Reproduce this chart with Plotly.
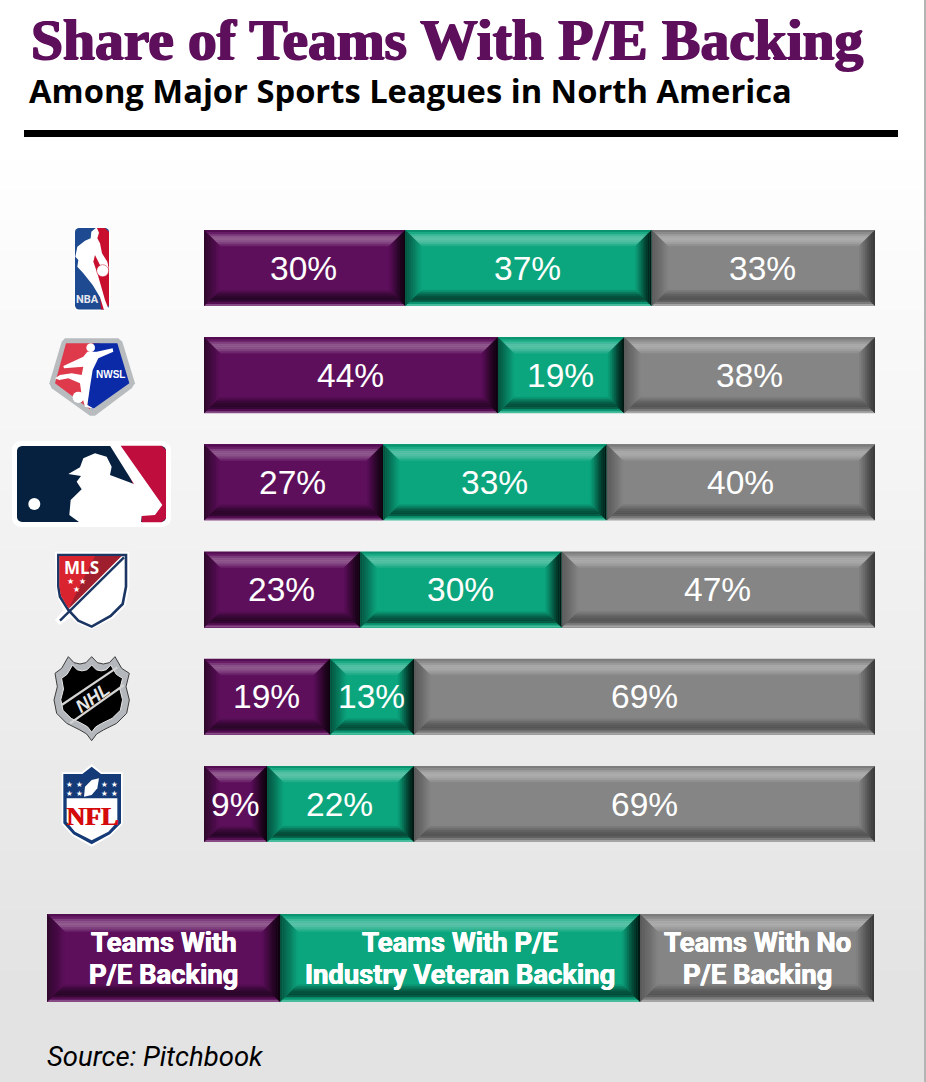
import math

import plotly.graph_objects as go

W, H = 926, 1082

leagues = ["NBA", "NWSL", "MLB", "MLS", "NHL", "NFL"]
series_names = [
    "Teams With<br>P/E Backing",
    "Teams With P/E<br>Industry Veteran Backing",
    "Teams With No<br>P/E Backing",
]
pe_backing = [30.0, 43.8, 26.7, 23.3, 18.8, 9.4]
veteran_backing = [36.7, 18.8, 33.3, 30.0, 12.5, 21.9]
no_backing = [33.3, 37.5, 40.0, 46.7, 68.8, 68.8]

PURPLE = "#5e0f5c"
TEAL = "#0ca67e"
GRAY = "#858585"
series = [pe_backing, veteran_backing, no_backing]
colors = [PURPLE, TEAL, GRAY]

# bevel stripes from the outer edge inwards, >0 towards white, <0 towards black
BEVEL_TOP = [-0.12, 0.06, 0.2, 0.3, 0.32, 0.28, 0.2, 0.1]
BEVEL_BOTTOM = [0.25, -0.1, -0.45, -0.55, -0.5, -0.4, -0.25, -0.1]
BEVEL_LEFT = [-0.5, -0.42, -0.36, -0.3, -0.24, -0.17, -0.1, -0.04]
BEVEL_RIGHT = [-0.85, -0.75, -0.65, -0.55, -0.42, -0.3, -0.18, -0.07]

BAR_LEFT, BAR_RIGHT = 204, 875
ROW_TOP, ROW_BOTTOM = 214.4, 857.6
BAR_WIDTH = 0.709

shapes = []
annotations = []


def shade(color, t):
    # gray goes dark much faster than the two colours
    if color == GRAY and t < 0:
        t *= 0.65
    rgb = [int(color[i:i + 2], 16) for i in (1, 3, 5)]
    target = 255 if t > 0 else 0
    rgb = [round(c + (target - c) * abs(t)) for c in rgb]
    return "#%02x%02x%02x" % tuple(rgb)


def px(x, y):
    return x / W, 1 - y / H


def path_of(points, close=True):
    d = "M" + " L".join(f"{x:.5f},{y:.5f}" for x, y in points)
    return d + " Z" if close else d


def add_poly(points, fill, line=None, line_width=0, close=True, layer="above"):
    # points in page pixels
    shapes.append(dict(
        type="path", xref="paper", yref="paper", layer=layer,
        path=path_of([px(x, y) for x, y in points], close),
        fillcolor=fill if fill else "rgba(0,0,0,0)",
        line=dict(color=line or "rgba(0,0,0,0)", width=line_width),
    ))


def zoomed(points, y0):
    # logo outlines were read at 3x, from a crop starting at y0
    return [(x / 3, y0 + y / 3) for x, y in points]


def circle(cx, cy, r, n=16):
    return [(cx + r * math.cos(2 * math.pi * i / n), cy + r * math.sin(2 * math.pi * i / n))
            for i in range(n)]


def rounded_rect(x0, y0, x1, y1, r):
    pts = []
    for cx, cy, start in [(x1 - r, y0 + r, -90), (x1 - r, y1 - r, 0), (x0 + r, y1 - r, 90), (x0 + r, y0 + r, 180)]:
        for k in range(5):
            a = math.radians(start + k * 22.5)
            pts.append((cx + r * math.cos(a), cy + r * math.sin(a)))
    return pts


def add_text(x, y, text, size, color="white", family="Liberation Sans", weight="normal",
             anchor="center", angle=0, style="normal", shadow="none"):
    fx, fy = px(x, y)
    annotations.append(dict(
        xref="paper", yref="paper", x=fx, y=fy, text=text, showarrow=False,
        xanchor=anchor, yanchor="middle", textangle=angle, align="center",
        font=dict(size=size, color=color, family=family, weight=weight, style=style, shadow=shadow),
    ))


def add_bevel(x0, x1, y0, y1, base, xref, yref, sx, sy, step=2.0):
    # mitred stripes round a block, sx and sy are axis units per pixel
    for i in reversed(range(8)):
        a, b = i * step, (i + 1) * step
        xa0, xa1, xb0, xb1 = x0 + a * sx, x1 - a * sx, x0 + b * sx, x1 - b * sx
        ya0, ya1, yb0, yb1 = y0 + a * sy, y1 - a * sy, y0 + b * sy, y1 - b * sy
        sides = [
            (BEVEL_TOP, [(xa0, ya0), (xa1, ya0), (xb1, yb0), (xb0, yb0)]),
            (BEVEL_BOTTOM, [(xa0, ya1), (xa1, ya1), (xb1, yb1), (xb0, yb1)]),
            (BEVEL_LEFT, [(xa0, ya0), (xb0, yb0), (xb0, yb1), (xa0, ya1)]),
            (BEVEL_RIGHT, [(xa1, ya0), (xb1, yb0), (xb1, yb1), (xa1, ya1)]),
        ]
        for profile, pts in sides:
            c = shade(base, profile[i])
            # thin line of the same colour hides the seams between stripes
            shapes.append(dict(
                type="path", xref=xref, yref=yref, layer="above", path=path_of(pts),
                fillcolor=c, line=dict(width=0.4 if i else 0, color=c),
            ))


fig = go.Figure()

for values, name, color in zip(series, series_names, colors):
    fig.add_trace(go.Bar(
        y=leagues, x=values, orientation="h", width=BAR_WIDTH, name=name.replace("<br>", " "),
        marker=dict(color=color, line=dict(width=0)), showlegend=False,
    ))

# background fade, one band per gray level
FADE_TOP, FADE_BOTTOM = 130, 1000
for level in range(29):
    y0 = FADE_TOP + (FADE_BOTTOM - FADE_TOP) * level / 29
    y1 = H if level == 28 else FADE_TOP + (FADE_BOTTOM - FADE_TOP) * (level + 1) / 29
    g = 255 - level
    shapes.append(dict(type="rect", xref="paper", yref="paper", layer="below",
                       x0=0, x1=1, y0=1 - y1 / H, y1=1 - y0 / H,
                       fillcolor=f"rgb({g},{g},{g})", line=dict(width=0)))
add_poly([(924, 0), (926, 0), (926, H), (924, H)], "#b4b4b4")

# header
add_text(29, 39, "Share of Teams With P/E Backing", 57.5, PURPLE, "Liberation Serif", "bold", "left",
         shadow=f"1px 0 0 {PURPLE}, -1px 0 0 {PURPLE}, 0 1px 0 {PURPLE}")
add_text(27, 91, "Among Major Sports Leagues in North America", 32.7, "black", "Open Sans", "bold", "left")
add_poly([(24, 130), (898, 130), (898, 137), (24, 137)], "black")

# bevels and labels on top of the bars
sx = 100 / (BAR_RIGHT - BAR_LEFT)
sy = 6 / (ROW_BOTTOM - ROW_TOP)
for row in range(len(leagues)):
    left = 0.0
    for values, color in zip(series, colors):
        right = left + values[row]
        add_bevel(left, min(right, 100), row - BAR_WIDTH / 2, row + BAR_WIDTH / 2, color, "x", "y", sx, sy)
        annotations.append(dict(
            xref="x", yref="y", x=left + values[row] / 2 - 0.1, y=row, text=f"{int(values[row] + 0.5)}%",
            showarrow=False, xanchor="center", yanchor="middle",
            font=dict(size=33.5, color="white", family="Liberation Sans"),
        ))
        left = right

# legend blocks
legend_edges = [47, 280, 640, 874]
LEG_TOP, LEG_BOTTOM = 914, 1002
for i, (name, color) in enumerate(zip(series_names, colors)):
    x0, x1 = legend_edges[i], legend_edges[i + 1]
    add_poly([(x0, LEG_TOP), (x1, LEG_TOP), (x1, LEG_BOTTOM), (x0, LEG_BOTTOM)], color)
    add_bevel(x0 / W, x1 / W, 1 - LEG_TOP / H, 1 - LEG_BOTTOM / H, color, "paper", "paper", 1 / W, -1 / H, step=2.2)
    for k, line in enumerate(name.split("<br>")):
        add_text((x0 + x1) / 2, 943 + 32 * k, line, 27.4, "white", "Roboto", "bold",
                 shadow="0.4px 0 0 white, -0.4px 0 0 white")

add_text(45, 1056, "Source: Pitchbook", 27.5, "black", "Roboto", "normal", "left", style="italic")

# NBA logo
add_poly(rounded_rect(73.5, 226.5, 110.5, 311, 5), "white")
add_poly(rounded_rect(75, 228, 109, 309.5, 4), "#1d4a90")
add_poly([(96, 228), (105, 228), (109, 232), (109, 305), (105, 309.5), (101, 309.5), (99, 285), (92, 262), (92, 240)], "#c8102e")
add_poly(zoomed([(290, 52), (297, 68), (292, 85), (300, 100), (306, 130), (322, 155), (326, 175), (316, 190),
                 (300, 165), (285, 135), (280, 155), (292, 190), (305, 235), (315, 270), (326, 298), (312, 300),
                 (300, 262), (278, 225), (250, 190), (232, 170), (235, 150), (226, 140), (232, 110), (255, 92),
                 (272, 85), (274, 65)], 210), "white")
add_poly(circle(102.7, 270.7, 6), "white", "#c8102e", 0.5)
add_text(87.5, 299, "NBA", 11, "#e8e8ef", "Roboto", "bold")

# NWSL logo
add_poly(zoomed([(195, 385), (355, 385), (367, 395), (405, 520), (395, 535), (285, 617), (270, 617), (155, 535),
                 (148, 520), (185, 395)], 210), "#b9bcbf")
add_poly(zoomed([(198, 400), (300, 400), (270, 598), (165, 520)], 210), "#de3a4c")
add_poly(zoomed([(280, 400), (352, 400), (388, 520), (278, 598), (262, 585)], 210), "#0a2aa8")
add_poly(zoomed([(190, 468), (250, 440), (262, 425), (290, 425), (338, 415), (340, 425), (295, 445), (278, 480),
                 (270, 530), (262, 585), (285, 598), (255, 590), (245, 555), (240, 520), (205, 505), (178, 510),
                 (165, 505), (180, 495), (215, 490), (245, 495), (250, 470), (192, 475)], 210), "white")
add_poly(zoomed(circle(272, 413, 13), 210), "white")
add_poly(zoomed(circle(235, 562, 17), 210), "white")
add_text(110, 374.5, "NWSL", 10, "white", "Liberation Sans", "bold")

# MLB logo
add_poly(rounded_rect(12, 441, 171, 527, 9), "white")
add_poly(rounded_rect(17, 446, 166, 522, 5), "#06203f")
add_poly(zoomed([(362, 707), (485, 707), (498, 720), (498, 925), (485, 937), (425, 937), (425, 880), (380, 780)], 210), "#bf0d3e")
add_poly(zoomed([(330, 707), (362, 707), (487, 885), (465, 915), (425, 918), (423, 937), (238, 937), (208, 915),
                 (212, 870), (245, 838), (230, 815), (243, 798), (205, 792), (240, 772), (250, 745), (285, 730),
                 (320, 740), (335, 770), (330, 795), (402, 822)], 210), "white")
add_poly(circle(34.3, 504, 6), "white")

# MLS logo
mls_outer = [(165, 65), (388, 65), (388, 170), (378, 225), (340, 265), (275, 298), (235, 282), (212, 262), (178, 285),
             (165, 270), (190, 240), (170, 195)]
add_poly(zoomed(mls_outer, 530), "white")
add_poly(zoomed([(175, 75), (378, 75), (378, 170), (368, 222), (332, 258), (275, 290), (235, 272), (205, 240),
                 (180, 200), (175, 170)], 530), "white", "#1c3664", 2.6)
add_poly(zoomed([(178, 78), (285, 78), (285, 140), (205, 235), (183, 198), (178, 170)], 530), "#d9232e")
add_poly(zoomed([(285, 78), (365, 78), (205, 238)], 530), "#a01f2f")
add_poly(zoomed([(372, 82), (180, 272)], 530), None, "#1c3664", 2.4, close=False)
add_text(81.5, 567, "MLS", 17, "white", "Open Sans", "bold")
for sx_, sy_ in [(210, 153), (248, 153), (230, 178)]:
    add_text(sx_ / 3, 530 + sy_ / 3, "★", 8, "white", "DejaVu Sans")

# NHL logo
nhl_outer = [(165, 430), (185, 415), (205, 380), (222, 398), (240, 402), (258, 398), (275, 380), (292, 398), (310, 402),
             (328, 398), (345, 380), (365, 415), (388, 430), (378, 470), (388, 510), (380, 550), (350, 580), (310, 600),
             (290, 612), (275, 632), (260, 612), (240, 600), (200, 580), (170, 550), (162, 510), (172, 470)]
add_poly(zoomed(nhl_outer, 530), "#b4b8bc", "#3c3c3c", 1)
nhl_inner = [(275 + (x - 275) * 0.82, 505 + (y - 505) * 0.8) for x, y in nhl_outer]
add_poly(zoomed(nhl_inner, 530), "black", "#e8e8e8", 1)
add_poly(zoomed([(185, 525), (352, 412)], 530), None, "#d4d4d4", 2.2, close=False)
add_poly(zoomed([(210, 580), (372, 465)], 530), None, "#d4d4d4", 2.2, close=False)
add_text(92.5, 697.5, "NHL", 18, "#e6e6e6", "Liberation Sans", "bold", angle=-35, style="italic")

# NFL logo
nfl_outer = [(185, 727), (245, 727), (275, 702), (305, 727), (368, 727), (368, 882), (332, 918), (275, 950), (218, 918), (185, 882)]
add_poly(zoomed(nfl_outer, 530), "white")
add_poly(zoomed([(190, 732), (247, 732), (275, 710), (303, 732), (363, 732), (363, 880), (330, 913), (275, 943), (220, 913), (190, 880)], 530), "#153a78")
add_poly(zoomed([(200, 805), (352, 805), (352, 875), (325, 905), (275, 931), (225, 905), (200, 875)], 530), "white")
add_poly(zoomed([(252, 800), (255, 770), (275, 750), (297, 745), (292, 775), (275, 795)], 530), "white")
for sx_ in (207, 237, 314, 344):
    for sy_ in (762, 790):
        add_text(sx_ / 3, 530 + sy_ / 3, "★", 7.5, "white", "DejaVu Sans")
add_text(92, 816, "NFL", 26, "#d50a0a", "Liberation Serif", "bold", shadow="1px 0 0 #d50a0a")

fig.update_layout(
    width=W, height=H, margin=dict(l=0, r=0, t=0, b=0), barmode="stack",
    paper_bgcolor="white", plot_bgcolor="rgba(0,0,0,0)",
    xaxis=dict(domain=[BAR_LEFT / W, BAR_RIGHT / W], range=[0, 100], visible=False, fixedrange=True),
    yaxis=dict(domain=[1 - ROW_BOTTOM / H, 1 - ROW_TOP / H], type="category", range=[5.5, -0.5],
               visible=False, fixedrange=True),
    shapes=shapes, annotations=annotations,
)

fig.write_html("out.html", config={"displayModeBar": False},
               post_script="document.body.style.margin='0';document.body.style.overflow='hidden';")
